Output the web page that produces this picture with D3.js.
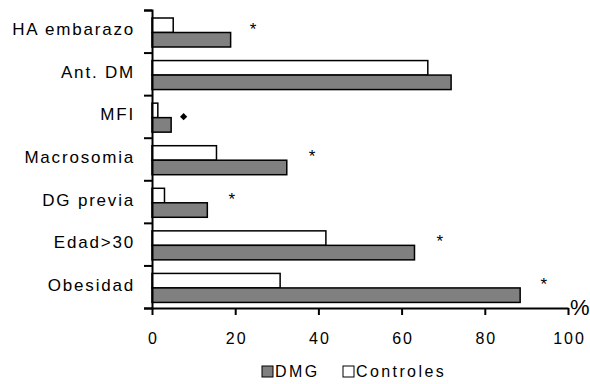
<!DOCTYPE html>
<html>
<head>
<meta charset="utf-8">
<script src="https://cdn.jsdelivr.net/npm/d3@7"></script>
<style>
  body { margin: 0; background: #fff; }
  svg text { font-family: "Liberation Sans", Arial, sans-serif; fill: #000; }
</style>
</head>
<body>
<div id="chart"></div>
<script>
// categories top to bottom
var categories = ["HA embarazo", "Ant. DM", "MFI", "Macrosomia", "DG previa", "Edad>30", "Obesidad"]
var dmg = [18.9, 71.9, 4.6, 32.4, 13.3, 63.1, 88.5]
var controles = [5.1, 66.3, 1.4, 15.5, 3.0, 41.8, 30.8]
var xTicks = [0, 20, 40, 60, 80, 100]

// significance marks
var markCats = ["HA embarazo", "MFI", "Macrosomia", "DG previa", "Edad>30", "Obesidad"]
var markType = ["star", "diamond", "star", "star", "star", "star"]
var markPos = [24.3, 7.6, 38.5, 19.2, 69.2, 94.2]

var W = 590, H = 384
var plotLeft = 152, plotRight = 568, plotTop = 10, plotBottom = 308

var svg = d3.select("#chart").append("svg")
  .attr("width", W).attr("height", H)

var x = d3.scaleLinear().domain([0, 100]).range([plotLeft, plotRight])
var y = d3.scaleBand().domain(categories).range([plotTop, plotBottom]).padding(0)
var inner = d3.scaleBand().domain(["Controles", "DMG"]).range([8, 37]).padding(0)

var rows = categories.map(function(c, i) {
  return {cat: c, DMG: dmg[i], Controles: controles[i]}
})

// bars
var g = svg.selectAll(".row").data(rows).enter().append("g")
  .attr("transform", function(d) { return "translate(0," + y(d.cat) + ")" })

g.append("rect")
  .attr("x", x(0))
  .attr("y", inner("Controles"))
  .attr("width", function(d) { return x(d.Controles) - x(0) })
  .attr("height", inner.bandwidth())
  .attr("fill", "#fff").attr("stroke", "#000").attr("stroke-width", 1.5)

g.append("rect")
  .attr("x", x(0))
  .attr("y", inner("DMG"))
  .attr("width", function(d) { return x(d.DMG) - x(0) })
  .attr("height", inner.bandwidth())
  .attr("fill", "#808080").attr("stroke", "#000").attr("stroke-width", 1.5)

// y axis with ticks at band edges
var yEdge = d3.scaleLinear().domain([0, categories.length]).range([plotTop, plotBottom])
var yAxis = svg.append("g")
  .attr("transform", "translate(" + plotLeft + ",0)")
  .call(d3.axisLeft(yEdge).tickValues(d3.range(categories.length + 1)).tickSize(8).tickFormat(""))
yAxis.select(".domain").attr("stroke-width", 2)
yAxis.selectAll(".tick line").attr("stroke-width", 2)

svg.selectAll(".cat").data(categories).enter().append("text")
  .attr("x", 135)
  .attr("y", function(d) { return y(d) + y.bandwidth() / 2 + 4 })
  .attr("text-anchor", "end")
  .style("font-size", "17px")
  .style("letter-spacing", "1.8px")
  .text(function(d) { return d })

// x axis
var xAxis = svg.append("g")
  .attr("transform", "translate(0," + plotBottom + ")")
  .call(d3.axisBottom(x).tickValues(xTicks).tickSize(7).tickPadding(18).tickSizeOuter(0))
xAxis.select(".domain").attr("stroke-width", 2)
xAxis.selectAll(".tick text")
  .style("font-size", "16px")
  .style("letter-spacing", "2px")
  .attr("dx", 1)
xAxis.selectAll(".tick line").attr("stroke-width", 2)

svg.append("text")
  .attr("x", 570).attr("y", 315)
  .style("font-size", "22px")
  .text("%")

// significance marks
markCats.forEach(function(c, i) {
  if (markType[i] == "star") {
    svg.append("text")
      .attr("x", x(markPos[i]))
      .attr("y", y(c) + 15 + 9.5)
      .attr("text-anchor", "middle")
      .style("font-size", "17px")
      .text("*")
  } else {
    svg.append("path")
      .attr("d", d3.symbol().type(d3.symbolSquare).size(26)())
      .attr("transform", "translate(" + x(markPos[i]) + "," + (y(c) + 21.5) + ") rotate(45)")
      .attr("fill", "#000")
  }
})

// legend
var legend = [{name: "DMG", fill: "#808080", x: 262}, {name: "Controles", fill: "#fff", x: 343}]
var lg = svg.selectAll(".leg").data(legend).enter().append("g")
  .attr("transform", function(d) { return "translate(" + d.x + ",366)" })
lg.append("rect")
  .attr("width", 11).attr("height", 11)
  .attr("fill", function(d) { return d.fill })
  .attr("stroke", "#000").attr("stroke-width", 1)
lg.append("text")
  .attr("x", 13).attr("y", 11)
  .style("font-size", "16px")
  .style("letter-spacing", "2.4px")
  .text(function(d) { return d.name })
</script>
</body>
</html>
